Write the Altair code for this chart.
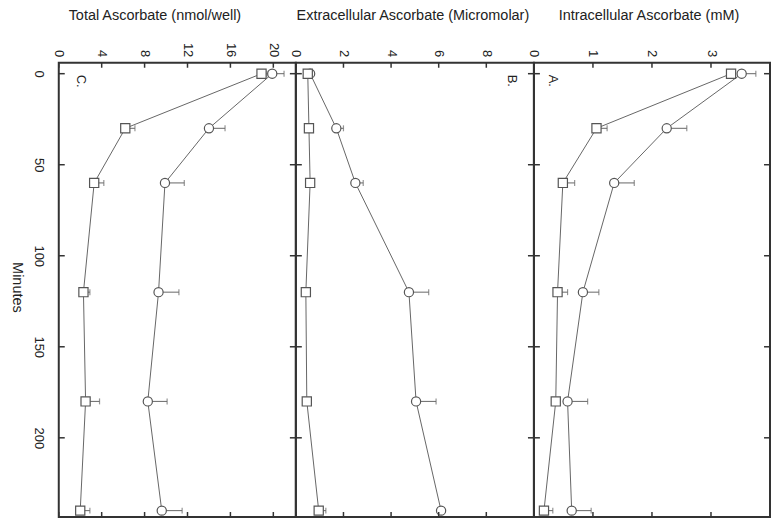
import altair as alt
import pandas as pd

# Sampling times (minutes)
minutes = [0, 30, 60, 120, 180, 240]

# Panel C: total ascorbate (nmol/well)
total_circle = [19.9, 14.0, 9.9, 9.3, 8.3, 9.6]
total_circle_err = [1.1, 1.5, 1.8, 1.9, 1.8, 1.9]
total_square = [18.9, 6.2, 3.3, 2.3, 2.5, 2.0]
total_square_err = [0.5, 0.9, 0.9, 0.6, 1.3, 0.9]

# Panel B: extracellular ascorbate (micromolar)
extra_circle = [0.6, 1.7, 2.5, 4.75, 5.05, 6.1]
extra_circle_err = [0.05, 0.3, 0.33, 0.83, 0.84, 0.1]
extra_square = [0.5, 0.55, 0.6, 0.42, 0.46, 0.96]
extra_square_err = [0.05, 0.05, 0.05, 0.08, 0.05, 0.3]

# Panel A: intracellular ascorbate (mM)
intra_circle = [3.52, 2.25, 1.36, 0.83, 0.57, 0.64]
intra_circle_err = [0.24, 0.34, 0.34, 0.27, 0.34, 0.33]
intra_square = [3.34, 1.06, 0.49, 0.40, 0.37, 0.17]
intra_square_err = [0.05, 0.18, 0.2, 0.17, 0.05, 0.15]

minute_ticks = [0, 50, 100, 150, 200]
total_ticks = [0, 4, 8, 12, 16, 20]
extra_ticks = [0, 2, 4, 6, 8]
intra_ticks = [0, 1, 2, 3]

H = 456
FONT = "Liberation Sans"
INK = "#222222"
MARK = "#555555"
TITLE_SIZE = 14.5
LABEL_SIZE = 13


def frame(circle, circle_err, square, square_err):
    rows = []
    for series, vals, errs in (("circle", circle, circle_err), ("square", square, square_err)):
        for m, v, e in zip(minutes, vals, errs):
            rows.append({"minutes": m, "value": v, "hi": v + e, "series": series})
    return pd.DataFrame(rows)


def panel(df, domain, ticks, title, title_x, letter, letter_x, width, first):
    y_scale = alt.Scale(domain=[-6, 243.5], reverse=True, nice=False, zero=False)
    if first:
        y_axis = alt.Axis(
            values=minute_ticks, format="d", title="Minutes", labelAngle=90,
            labelAlign="center", labelBaseline="top", labelPadding=14, ticks=False,
            tickSize=0, domain=False, grid=False, labelFontSize=LABEL_SIZE,
            labelColor=INK, labelOverlap=False,
            titleAngle=90, titleX=-42, titleY=225, titleAlign="center",
            titleBaseline="middle", titleFontSize=TITLE_SIZE, titleFontWeight="normal",
            titleColor=INK,
        )
    else:
        y_axis = None
    y_enc = alt.Y("minutes:Q", scale=y_scale, axis=y_axis)

    x_scale = alt.Scale(domain=domain, nice=False, zero=False)
    x_axis = alt.Axis(
        orient="top", values=ticks, format="d", title=title, labelAngle=90,
        labelAlign="right", labelBaseline="middle", labelPadding=6, labelFlush=False,
        labelOverlap=False, ticks=False, tickSize=0, domain=False, grid=False,
        labelFontSize=LABEL_SIZE, labelColor=INK, titleX=title_x, titleY=-47,
        titleAlign="center", titleBaseline="middle", titleAngle=0,
        titleFontSize=TITLE_SIZE, titleFontWeight="normal", titleColor=INK,
    )
    x_enc = alt.X("value:Q", scale=x_scale, axis=x_axis)

    base = alt.Chart(df)
    lines = base.mark_line(color="#666666", strokeWidth=1).encode(
        x=x_enc, y=y_enc, detail="series:N", order="minutes:Q"
    )
    bars = base.mark_rule(color="#666666", strokeWidth=1).encode(
        x=x_enc, x2="hi:Q", y=y_enc
    )
    caps = base.mark_tick(color="#666666", orient="vertical", size=6, thickness=1.2).encode(
        x=alt.X("hi:Q", scale=x_scale), y=y_enc
    )
    points = base.mark_point(
        filled=True, fill="white", stroke=MARK, strokeWidth=1.2, size=85, opacity=1
    ).encode(
        x=x_enc, y=y_enc,
        shape=alt.Shape("series:N", scale=alt.Scale(domain=["circle", "square"],
                                                    range=["circle", "square"]), legend=None),
    )

    xt = pd.DataFrame({"value": ticks})
    top_ticks = alt.Chart(xt).mark_rule(color="#333333", strokeWidth=1.5).encode(
        x=x_enc, y=alt.value(0), y2=alt.value(5)
    )
    bottom_ticks = alt.Chart(xt).mark_rule(color="#333333", strokeWidth=1.5).encode(
        x=x_enc, y=alt.value(H), y2=alt.value(H - 5)
    )
    yt = pd.DataFrame({"minutes": minute_ticks})
    left_ticks = alt.Chart(yt).mark_rule(color="#333333", strokeWidth=1.5).encode(
        y=y_enc, x=alt.value(0), x2=alt.value(6)
    )
    right_ticks = alt.Chart(yt).mark_rule(color="#333333", strokeWidth=1.5).encode(
        y=y_enc, x=alt.value(width), x2=alt.value(width - 6)
    )

    tag = alt.Chart(pd.DataFrame({"label": [letter]})).mark_text(
        angle=90, align="left", baseline="middle", fontSize=LABEL_SIZE, color=INK, font=FONT
    ).encode(text="label:N", x=alt.value(letter_x), y=alt.value(12))

    return alt.layer(
        lines, bars, caps, points, top_ticks, bottom_ticks, left_ticks, right_ticks, tag
    ).properties(width=width, height=H)


pc = panel(frame(total_circle, total_circle_err, total_square, total_square_err),
           [0, 22.1], total_ticks, "Total Ascorbate (nmol/well)", 96, "C.", 22, 238, True)
pb = panel(frame(extra_circle, extra_circle_err, extra_square, extra_square_err),
           [0, 10], extra_ticks, "Extracellular Ascorbate (Micromolar)", 117, "B.", 217, 239, False)
pa = panel(frame(intra_circle, intra_circle_err, intra_square, intra_square_err),
           [0, 4], intra_ticks, "Intracellular Ascorbate (mM)", 115, "A.", 19, 237, False)

chart = alt.hconcat(pc, pb, pa, spacing=0, bounds="flush").properties(
    padding={"left": 9, "top": 6, "right": 0, "bottom": 0}
).configure(font=FONT).configure_view(stroke="#333333", strokeWidth=2)

chart.save("out.html", embed_options={"renderer": "svg", "actions": False})
